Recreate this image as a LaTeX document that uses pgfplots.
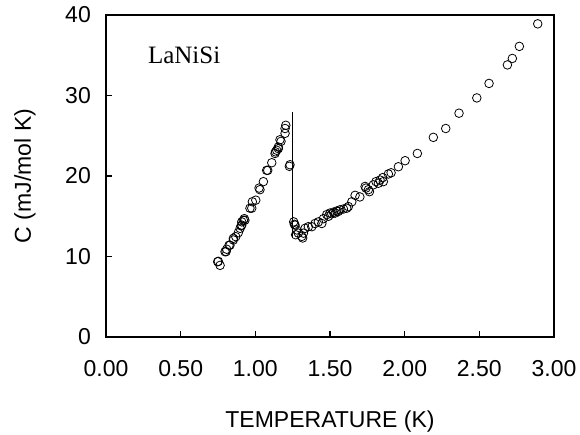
\documentclass[border=0pt]{standalone}
\usepackage{fontspec}
\setmainfont{Liberation Sans}
\newfontfamily\serifname{Liberation Serif}
\usepackage{pgfplots}
\pgfplotsset{compat=1.18}

\begin{document}
\begin{tikzpicture}
\useasboundingbox (-106pt,-98pt) rectangle (474pt,337pt);
\begin{axis}[
  scale only axis,
  width=448pt, height=322pt,
  xmin=0, xmax=3, ymin=0, ymax=40,
  xtick={0,0.5,...,3.01}, ytick={0,10,20,30,40},
  tick align=inside, xtick pos=bottom, ytick pos=left,
  major tick length=6pt,
  axis line style={line width=1.4pt},
  every tick/.style={line width=1.2pt, black},
  /pgf/number format/assume math mode=true,
  xticklabel style={/pgf/number format/fixed, /pgf/number format/fixed zerofill, /pgf/number format/precision=2},
  x tick label style={font=\fontsize{23}{26}\selectfont, anchor=base, inner sep=0pt, yshift=-40pt},
  y tick label style={font=\fontsize{23}{26}\selectfont, anchor=east, inner sep=0pt, xshift=-15pt},
  xlabel={TEMPERATURE (K)},
  ylabel={C (mJ/mol K)},
  every axis x label/.style={at={(axis description cs:0.5,0)}, anchor=center, yshift=-85pt, font=\fontsize{23}{26}\selectfont},
  every axis y label/.style={at={(axis description cs:0,0.5)}, anchor=center, rotate=90, yshift=81pt, font=\fontsize{23}{26}\selectfont},
  clip=false,
]
\addplot[black, line width=0.8pt] coordinates {(1.25,27.9) (1.25,12.3)};
\addplot[only marks, mark=o, mark size=4.3pt, mark options={line width=0.8pt, black}] coordinates {
(0.748,9.35) (0.764,8.9) (0.752,9.4) (0.797,10.6) (0.808,10.9) (0.804,10.6) (0.824,11.4) (0.83,11.4)
(0.853,12.05) (0.853,12.26) (0.869,12.46) (0.886,12.96) (0.898,13.5) (0.905,13.8) (0.909,13.9)
(0.909,14.3) (0.92,14.5) (0.926,14.7) (0.93,14.5) (0.964,16.0) (0.976,16.0) (0.98,16.8)
(1.003,17.0) (1.025,18.5) (1.031,18.3) (1.054,19.3) (1.076,20.7) (1.083,20.7) (1.11,21.65)
(1.132,22.8) (1.135,23.0) (1.143,23.2) (1.154,23.4) (1.154,23.6) (1.165,24.5) (1.172,24.3)
(1.199,25.3) (1.199,25.9) (1.204,26.3) (1.232,21.4) (1.228,21.2)
(1.257,14.3) (1.261,14.0) (1.266,13.9) (1.27,12.7) (1.277,13.3) (1.288,12.9) (1.311,12.5)
(1.317,12.3) (1.322,12.9) (1.333,13.5) (1.355,13.7) (1.378,13.7) (1.40,14.1) (1.422,14.3)
(1.445,14.1) (1.456,14.7) (1.478,15.2) (1.49,15.0) (1.50,15.4) (1.512,15.3) (1.523,15.5)
(1.535,15.4) (1.545,15.65) (1.556,15.6) (1.567,15.8) (1.59,15.9) (1.612,16.0) (1.623,16.2)
(1.646,16.8) (1.668,17.6) (1.70,17.4) (1.735,18.7) (1.741,18.5) (1.757,18.3) (1.764,18.05)
(1.79,18.9) (1.808,19.3) (1.824,19.1) (1.835,19.5) (1.853,19.8) (1.857,19.3) (1.891,20.25)
(1.909,20.4) (1.958,21.15) (2.003,21.9) (2.085,22.8) (2.192,24.8) (2.275,25.9) (2.364,27.8)
(2.483,29.7) (2.565,31.5) (2.688,33.8) (2.721,34.6) (2.768,36.1) (2.891,38.9)
};
\node[anchor=west, inner sep=0pt, font=\serifname\fontsize{25}{28}\selectfont] at (axis cs:0.28,35) {LaNiSi};
\end{axis}
\end{tikzpicture}
\end{document}
